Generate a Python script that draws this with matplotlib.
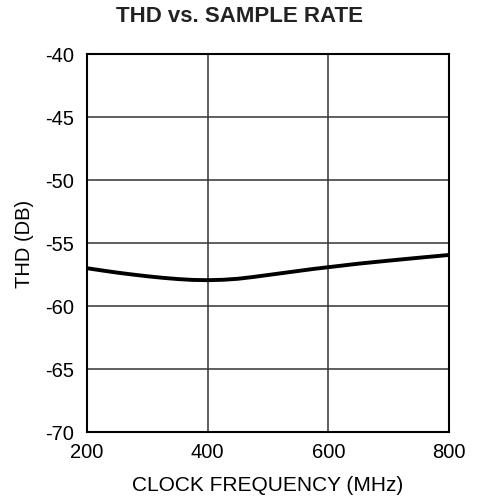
import matplotlib
matplotlib.use("Agg")
import matplotlib.pyplot as plt
import numpy as np

plt.rcParams['font.family'] = ['Liberation Sans', 'DejaVu Sans']
plt.rcParams['axes.unicode_minus'] = False

clock_mhz = [200, 225, 250, 275, 300, 325, 350, 375, 400, 425, 450, 475, 500,
             525, 550, 575, 600, 650, 700, 750, 800]
thd_db = [-57.0, -57.18, -57.35, -57.5, -57.64, -57.76, -57.86, -57.93, -57.95,
          -57.92, -57.84, -57.7, -57.54, -57.38, -57.22, -57.06, -56.92,
          -56.64, -56.4, -56.17, -55.95]

x_ticks = [200, 400, 600, 800]
y_ticks = [-40, -45, -50, -55, -60, -65, -70]

fig = plt.figure(figsize=(4.8, 5.02), dpi=100)
ax = fig.add_axes([87 / 480, 1 - 433 / 502, (449 - 87) / 480, (433 - 55) / 502])

ax.plot(clock_mhz, thd_db, color='black', lw=2.8, solid_capstyle='butt')

ax.set_xlim(200, 800)
ax.set_ylim(-70, -40)
ax.set_xticks(x_ticks)
ax.set_yticks(y_ticks)
ax.tick_params(length=0, labelsize=14.5)
ax.tick_params(axis='x', pad=7)
ax.tick_params(axis='y', pad=9)
ax.grid(True, color='#333333', lw=1.1)
for s in ax.spines.values():
    s.set_linewidth(1.5)
    s.set_color('black')

ax.set_xlabel('CLOCK FREQUENCY (MHz)', fontsize=15, labelpad=10)
ax.set_ylabel('THD (DB)', fontsize=14.5, labelpad=8)
fig.text(0.498, 1 - 17 / 502, 'THD vs. SAMPLE RATE', ha='center', va='center',
         fontsize=16, fontweight='bold', color='#222222')

fig.savefig('out.png', dpi=100)
